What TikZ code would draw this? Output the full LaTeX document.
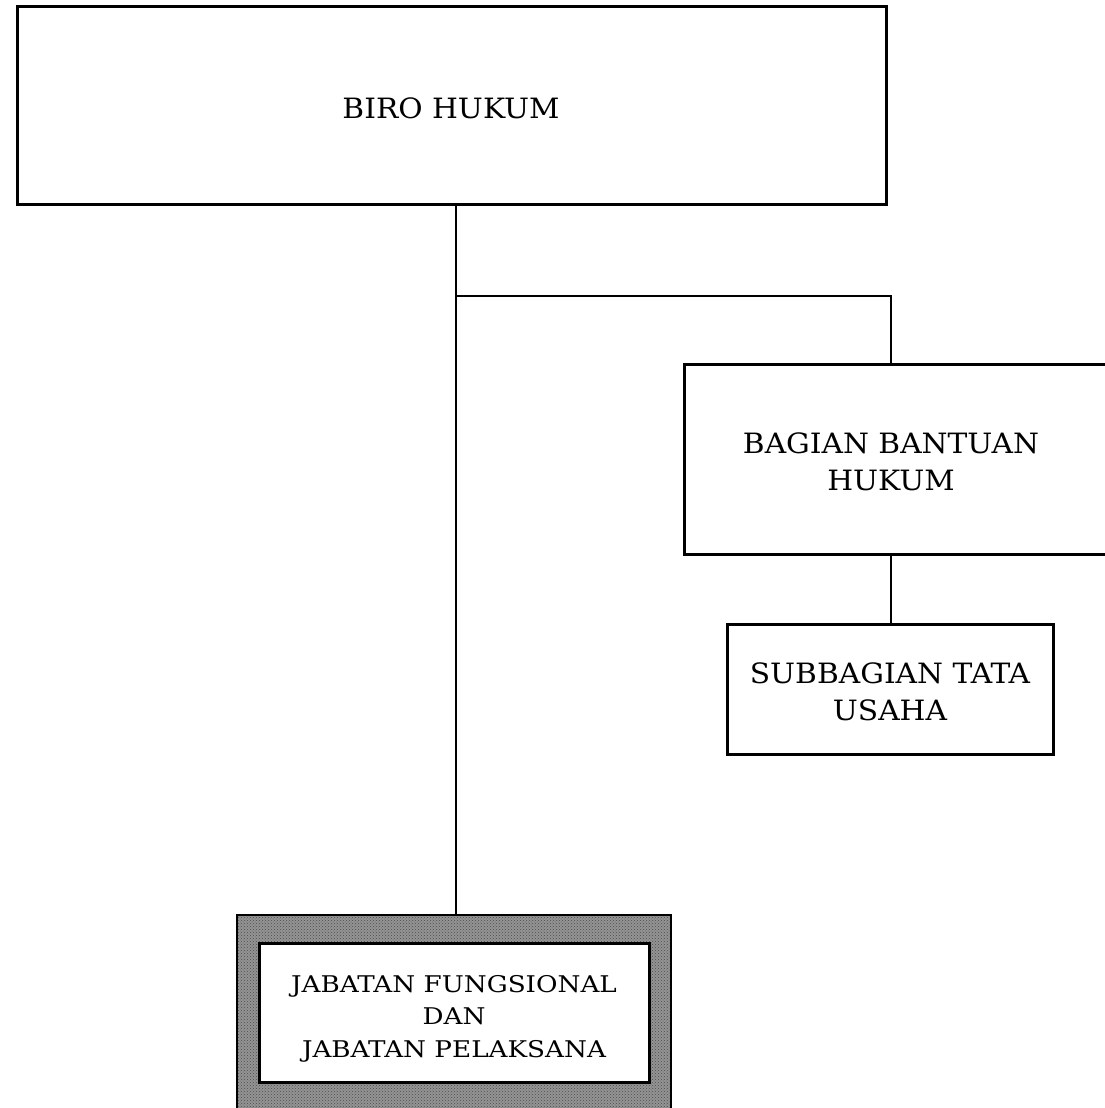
\documentclass[tikz,border=0pt]{standalone}
\usepackage{fontspec}
\setmainfont{DejaVu Serif}
\newfontfamily\boxfont{DejaVu Serif}[FakeStretch=1.06]
\newfontfamily\postfont{DejaVu Serif}[FakeStretch=1.14]
\usetikzlibrary{patterns}
\begin{document}
\begin{tikzpicture}[x=1pt,y=-1pt,
  unitbox/.style={draw=black, line width=3pt, fill=white},
  link/.style={draw=black, line width=2.6pt},
  bigtxt/.style={font=\boxfont\fontsize{28}{37}\selectfont, align=center, anchor=base, inner sep=0pt},
  smalltxt/.style={font=\postfont\fontsize{23}{32.5}\selectfont, align=center, anchor=base, inner sep=0pt}]
\useasboundingbox (0,0) rectangle (1104,1108);

% head office
\draw[unitbox] (17,7) rectangle (886,204);
\node[bigtxt] (biro) at (451,118) {BIRO HUKUM};
\coordinate (biroB) at (456,204);

% legal aid division (last line baseline given)
\draw[unitbox] (684,364) rectangle (1112,554);
\node[bigtxt] (bagian) at (891,490) {BAGIAN BANTUAN\\HUKUM};
\coordinate (bagT) at (891,364);
\coordinate (bagB) at (891,554);

% administration subdivision
\draw[unitbox] (727,624) rectangle (1053,754);
\node[bigtxt] (sub) at (890,720) {SUBBAGIAN TATA\\USAHA};
\coordinate (subT) at (891,624);

% functional and executive posts (shaded frame)
\fill[black!42] (237,915) rectangle (671,1115);
\fill[pattern=crosshatch dots, pattern color=black!70] (237,915) rectangle (671,1115);
\draw[line width=2.6pt] (237,1115) -- (237,915) -- (671,915) -- (671,1115);
\draw[unitbox] (259,943) rectangle (649,1082);
\node[smalltxt] (jab) at (454,1057) {JABATAN FUNGSIONAL\\DAN\\JABATAN PELAKSANA};
\coordinate (jabT) at (456,915);

% connectors
\coordinate (split) at (456,296);
\draw[link] (biroB) -- (jabT);
\draw[link] (split) -- (891,296) -- (bagT);
\draw[link] (bagB) -- (subT);
\end{tikzpicture}
\end{document}
